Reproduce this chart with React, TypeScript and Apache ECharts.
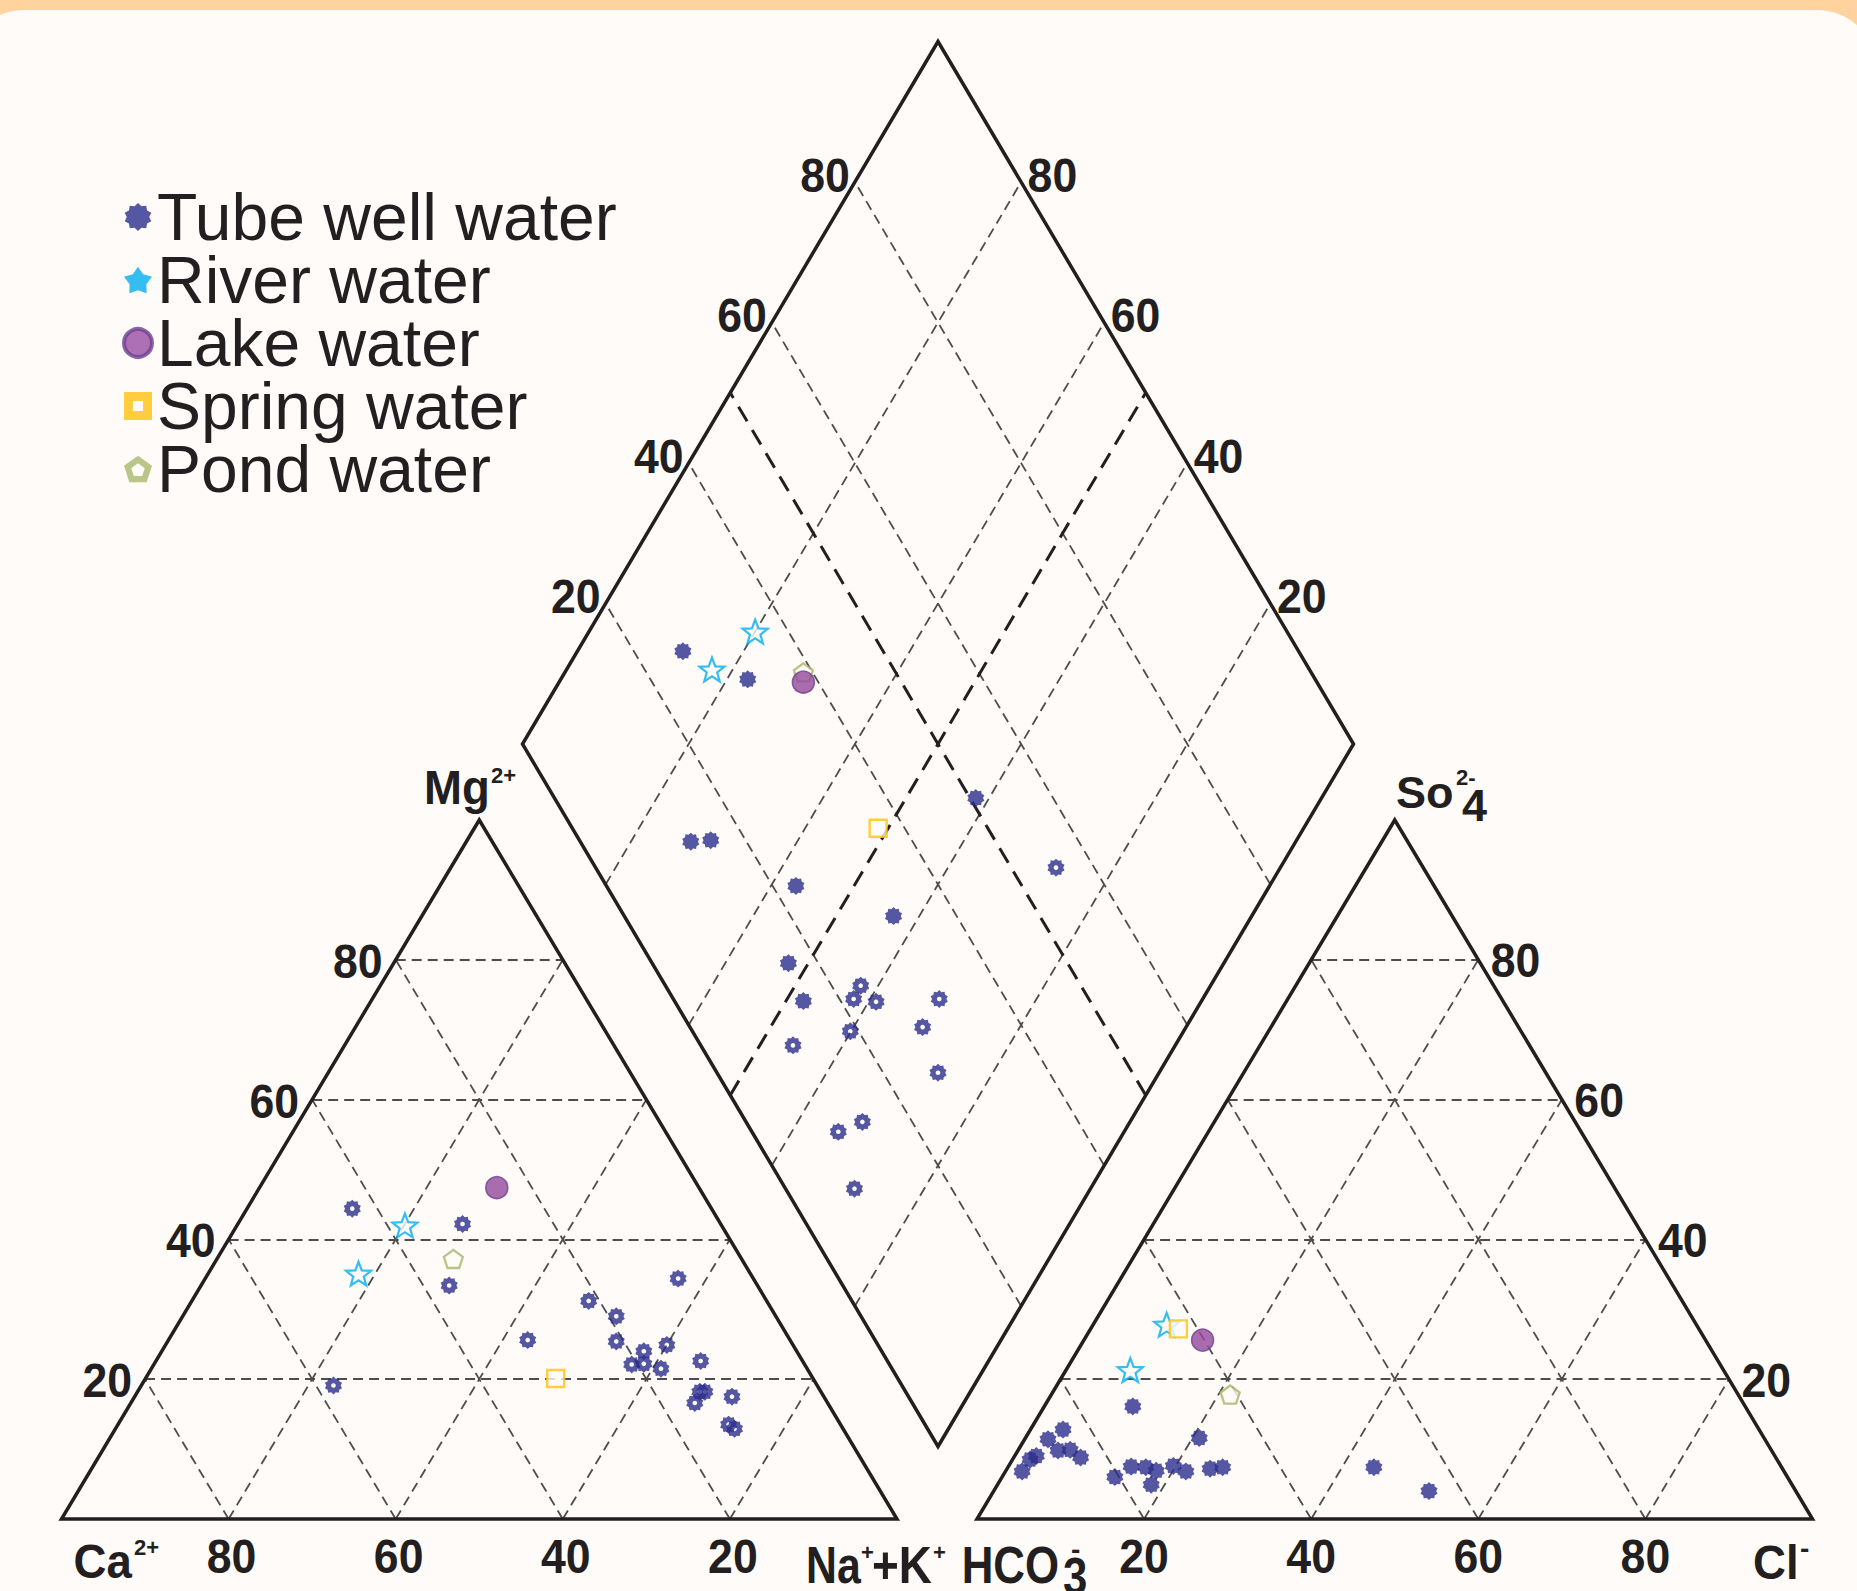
import { useEffect, useRef } from "react";
import * as echarts from "echarts";

// ---------------- DATA ----------------
const TICKS = [20, 40, 60, 80];
const TICK_LABELS = ["20", "40", "60", "80"];

// Cation triangle: [Ca2+, Mg2+, Na+ + K+] (%)
const tubeWellCations = [
  [43.0, 44.4, 12.6], [30.9, 42.2, 26.9], [36.9, 33.4, 29.7], [9.0, 34.4, 56.6],
  [21.3, 31.2, 47.5], [19.1, 29.0, 51.9], [31.4, 25.6, 43.0], [20.9, 25.4, 53.7],
  [18.3, 24.0, 57.7], [15.1, 24.9, 60.0], [20.7, 22.1, 57.2], [19.2, 22.2, 58.6],
  [17.5, 21.5, 61.0], [12.2, 22.6, 65.2], [57.9, 19.1, 23.0], [14.5, 18.2, 67.3],
  [13.9, 18.2, 67.9], [15.9, 16.6, 67.5], [11.0, 17.5, 71.5], [13.4, 13.5, 73.1],
  [13.0, 12.9, 74.1],
];
const riverCations = [[37.9, 42.0, 20.1], [46.9, 35.1, 18.0]];
const lakeCations = [[24.2, 47.4, 28.4]];
const springCations = [[30.8, 20.1, 49.1]];
const pondCations = [[34.5, 37.2, 28.3]];

// Anion triangle: [HCO3-, SO4 2-, Cl-] (%)
const tubeWellAnions = [
  [73.3, 16.1, 10.6], [83.3, 12.8, 3.9], [85.8, 11.4, 2.8], [88.4, 9.0, 2.6],
  [89.4, 8.5, 2.1], [91.2, 6.8, 2.0], [85.4, 9.8, 4.8], [83.9, 9.9, 6.2],
  [83.2, 8.8, 8.0], [80.5, 6.0, 13.5], [77.8, 7.5, 14.7], [76.1, 7.4, 16.5],
  [75.1, 6.9, 18.0], [76.7, 4.9, 18.4], [72.7, 7.6, 19.7], [71.6, 6.8, 21.6],
  [67.6, 11.6, 20.8], [68.5, 7.2, 24.3], [66.9, 7.4, 25.7], [48.8, 7.4, 43.8],
  [43.9, 4.0, 52.1],
];
const riverAnions = [[63.4, 27.8, 8.8], [71.0, 21.3, 7.7]];
const lakeAnions = [[60.2, 25.6, 14.2]];
const springAnions = [[62.3, 27.2, 10.5]];
const pondAnions = [[60.8, 17.8, 21.4]];

// Diamond: [Ca+Mg, SO4+Cl] (%)
const tubeWellDiamondA = [
  [87.3, 25.9], [77.5, 31.7], [72.8, 13.3], [70.5, 15.8], [57.0, 22.8],
  [43.1, 32.4], [41.6, 50.7], [52.4, 16.4], [47.9, 15.5],
];
const tubeWellDiamondB = [
  [27.0, 55.4], [42.1, 23.5], [42.0, 21.7], [39.1, 24.2], [31.7, 32.0], [40.1, 19.0],
  [31.7, 28.0], [46.0, 11.1], [26.6, 26.6], [32.2, 14.0], [34.4, 10.4], [28.4, 8.3],
];
const riverDiamond = [[80.0, 36.0], [82.5, 28.1]];
const lakeDiamond = [[70.6, 38.2]];
const springDiamond = [[51.2, 36.8]];
const pondDiamond = [[71.3, 38.9]];

const SERIES_NAMES = ["Tube well water", "River water", "Lake water", "Spring water", "Pond water"];

// ---------------- GEOMETRY ----------------
const W = 1857;
const H = 1591;
const LT = { x0: 61.5, x1: 897, base: 1519, apex: 820 };
const RT = { x0: 977, x1: 1812.5, base: 1519, apex: 820 };
const DM = { cx: 938, top: 41.5, bottom: 1446.5, hw: 415.5 };

function triPt(T: any, a: number, b: number, c: number): number[] {
  const t = a + b + c;
  const w = T.x1 - T.x0;
  const h = T.base - T.apex;
  return [T.x0 + (c / t + b / t / 2) * w, T.base - (b / t) * h];
}
const catPt = (ca: number, mg: number, na: number) => triPt(LT, ca, mg, na);
const anPt = (hc: number, so: number, cl: number) => triPt(RT, hc, so, cl);
function dmPt(cm: number, sc: number): number[] {
  const hh = (DM.bottom - DM.top) / 2;
  return [DM.cx + (DM.hw * (sc - cm)) / 100, DM.bottom - (hh * (sc + cm)) / 100];
}

// ---------------- SYMBOLS ----------------
function starPath(n: number, outer: number, inner: number, hole: number): string {
  let d = "";
  for (let i = 0; i < n * 2; i++) {
    const r = i % 2 === 0 ? outer : inner;
    const a = -Math.PI / 2 + (i * Math.PI) / n;
    d += (i === 0 ? "M" : "L") + (50 + r * Math.cos(a)).toFixed(2) + " " + (50 + r * Math.sin(a)).toFixed(2) + " ";
  }
  d += "Z ";
  if (hole > 0) {
    for (let i = 0; i < 12; i++) {
      const a = -Math.PI / 2 - (i * Math.PI * 2) / 12;
      d += (i === 0 ? "M" : "L") + (50 + hole * Math.cos(a)).toFixed(2) + " " + (50 + hole * Math.sin(a)).toFixed(2) + " ";
    }
    d += "Z";
  }
  return "path://" + d;
}
function polyRing(n: number, outer: number, inner: number): string {
  let d = "";
  for (let i = 0; i < n; i++) {
    const a = -Math.PI / 2 + (i * 2 * Math.PI) / n;
    d += (i === 0 ? "M" : "L") + (50 + outer * Math.cos(a)).toFixed(2) + " " + (50 + outer * Math.sin(a)).toFixed(2) + " ";
  }
  d += "Z ";
  if (inner > 0) {
    for (let i = 0; i < n; i++) {
      const a = -Math.PI / 2 - (i * 2 * Math.PI) / n;
      d += (i === 0 ? "M" : "L") + (50 + inner * Math.cos(a)).toFixed(2) + " " + (50 + inner * Math.sin(a)).toFixed(2) + " ";
    }
    d += "Z";
  }
  return "path://" + d;
}
const STAR10 = starPath(10, 50, 40, 0);
const STAR10_HOLLOW = starPath(10, 50, 40, 13);
const STAR5 = starPath(5, 50, 21, 0);
const STAR5_FAT = starPath(5, 50, 30, 0);
const PENTAGON = polyRing(5, 50, 0);
const PENTAGON_RING = polyRing(5, 50, 24);
const SQUARE_RING = "path://M0 0 L100 0 L100 100 L0 100 Z M32 32 L32 68 L68 68 L68 32 Z";

const TXT = "#231f20";
const BG = "#fffbf9";
const TUBE = "#2b2e8c";
const FONT = "'Liberation Sans', Arial, Helvetica, sans-serif";

function txt(text: string, x: number, y: number, size: number, align: string, scaleX = 1, weight = "bold") {
  return {
    type: "text",
    x,
    y,
    scaleX,
    z: 50,
    silent: true,
    style: {
      text,
      font: `${weight} ${size}px ${FONT}`,
      fill: TXT,
      align,
      textAlign: align,
      verticalAlign: "middle",
      textVerticalAlign: "middle",
      lineHeight: Math.round(size * 0.8),
    },
  };
}

function buildOption() {
  // grid lines
  const thin: any[] = [];
  TICKS.forEach((k) => {
    thin.push([catPt(100 - k, k, 0), catPt(0, k, 100 - k)]);
    thin.push([catPt(k, 0, 100 - k), catPt(k, 100 - k, 0)]);
    thin.push([catPt(100 - k, 0, k), catPt(0, 100 - k, k)]);
    thin.push([anPt(100 - k, k, 0), anPt(0, k, 100 - k)]);
    thin.push([anPt(k, 0, 100 - k), anPt(k, 100 - k, 0)]);
    thin.push([anPt(100 - k, 0, k), anPt(0, 100 - k, k)]);
    thin.push([dmPt(k, 0), dmPt(k, 100)]);
    thin.push([dmPt(0, k), dmPt(100, k)]);
  });
  const thick = [
    [dmPt(50, 0), dmPt(50, 100)],
    [dmPt(0, 50), dmPt(100, 50)],
  ];

  const lt = [catPt(100, 0, 0), catPt(0, 0, 100), catPt(0, 100, 0)];
  const rt = [anPt(100, 0, 0), anPt(0, 0, 100), anPt(0, 100, 0)];
  const dm = [dmPt(0, 0), dmPt(0, 100), dmPt(100, 100), dmPt(100, 0)];
  const closed = (p: number[][]) => [...p, p[0], p[1]];

  const outline = (data: number[][]) => ({
    type: "line",
    data,
    symbol: "none",
    silent: true,
    z: 3,
    lineStyle: { color: TXT, width: 3.5, join: "miter", cap: "butt" },
  });

  // labels
  const g: any[] = [
    {
      type: "rect",
      z: -100,
      silent: true,
      shape: { x: -36, y: 10, width: W + 56, height: H + 100, r: 60 },
      style: { fill: BG },
    },
  ];
  TICKS.forEach((k, i) => {
    const lab = TICK_LABELS[i];
    const a = catPt(100 - k, k, 0);
    g.push(txt(lab, a[0] - 13, a[1] + 1.5, 48, "right", 0.93));
    const b = catPt(k, 0, 100 - k);
    g.push(txt(lab, b[0] + 3, LT.base + 37.5, 48, "center", 0.93));
    const c = anPt(0, k, 100 - k);
    g.push(txt(lab, c[0] + 12.5, c[1] + 1, 48, "left", 0.93));
    const d = anPt(100 - k, 0, k);
    g.push(txt(lab, d[0], RT.base + 37.5, 48, "center", 0.93));
    const e = dmPt(100, k);
    g.push(txt(lab, e[0] - 5, e[1] - 7, 48, "right", 0.93));
    const f = dmPt(k, 100);
    g.push(txt(lab, f[0] + 6.5, f[1] - 7, 48, "left", 0.93));
  });
  // axis names
  g.push(txt("Ca", 73.5, 1561.5, 48, "left", 0.95));
  g.push(txt("2+", 134, 1547, 22, "left", 1));
  g.push(txt("Mg", 424, 788, 48, "left", 0.95));
  g.push(txt("2+", 491, 775, 22, "left", 1));
  g.push(txt("Na", 806, 1565, 51, "left", 0.84));
  g.push(txt("+", 861, 1552, 22, "left", 1));
  g.push(txt("+K", 872, 1565, 51, "left", 0.9));
  g.push(txt("+", 933, 1552, 22, "left", 1));
  g.push(txt("HCO", 961.7, 1565, 51, "left", 0.86));
  g.push(txt("3", 1063, 1576, 51, "left", 0.86));
  g.push(txt("-", 1071, 1549, 28, "left", 1));
  g.push(txt("So", 1396, 792, 45, "left", 1));
  g.push(txt("2-", 1456, 777, 22, "left", 1));
  g.push(txt("4", 1462, 805, 45, "left", 1));
  g.push(txt("Cl", 1753, 1563, 48, "left", 0.95));
  g.push(txt("-", 1800, 1548, 28, "left", 1));

  const cat = (arr: number[][]) => arr.map((p) => catPt(p[0], p[1], p[2]));
  const an = (arr: number[][]) => arr.map((p) => anPt(p[0], p[1], p[2]));
  const dmd = (arr: number[][]) => arr.map((p) => dmPt(p[0], p[1]));

  const scatterBase = { type: "scatter", symbolKeepAspect: true, z: 10 };

  return {
    animation: false,
    backgroundColor: "#ffd29e",
    grid: { left: 0, right: 0, top: 0, bottom: 0, containLabel: false },
    xAxis: { type: "value", min: 0, max: W, show: false },
    yAxis: { type: "value", min: 0, max: H, inverse: true, show: false },
    legend: {
      orient: "vertical",
      left: 122,
      top: 184,
      padding: 0,
      itemGap: -3,
      itemWidth: 28,
      itemHeight: 28,
      selectedMode: false,
      textStyle: { fontFamily: FONT, fontSize: 66, color: TXT, lineHeight: 62 },
      data: [
        { name: SERIES_NAMES[0], icon: STAR10, itemStyle: { color: TUBE, borderWidth: 0 } },
        { name: SERIES_NAMES[1], icon: STAR5_FAT, itemStyle: { color: "#00aeef", borderWidth: 0 } },
        { name: SERIES_NAMES[2], icon: "circle", itemStyle: { color: "#9a4ea2", borderColor: "#6a3e90", borderWidth: 4 } },
        { name: SERIES_NAMES[3], icon: SQUARE_RING, itemStyle: { color: "#ffc20e", borderWidth: 0 } },
        { name: SERIES_NAMES[4], icon: PENTAGON_RING, itemStyle: { color: "#a9b86d", borderWidth: 0 } },
      ],
    },
    graphic: { elements: g },
    series: [
      {
        type: "lines",
        coordinateSystem: "cartesian2d",
        silent: true,
        z: 1,
        data: thin.map((c) => ({ coords: c })),
        lineStyle: { color: "#4d4d4d", width: 1.8, type: [10, 6], opacity: 1, curveness: 0 },
      },
      {
        type: "lines",
        coordinateSystem: "cartesian2d",
        silent: true,
        z: 2,
        data: thick.map((c) => ({ coords: c })),
        lineStyle: { color: TXT, width: 3, type: [17, 10], opacity: 1, curveness: 0 },
      },
      outline(closed(lt)),
      outline(closed(rt)),
      outline(closed(dm)),
      {
        ...scatterBase,
        name: SERIES_NAMES[0],
        symbol: STAR10,
        symbolSize: 18,
        itemStyle: { color: TUBE },
        data: [...dmd(tubeWellDiamondA), ...an(tubeWellAnions)],
      },
      {
        ...scatterBase,
        name: SERIES_NAMES[0],
        symbol: STAR10_HOLLOW,
        symbolSize: 18,
        itemStyle: { color: TUBE },
        data: [...cat(tubeWellCations), ...dmd(tubeWellDiamondB)],
      },
      {
        ...scatterBase,
        name: SERIES_NAMES[1],
        symbol: STAR5,
        symbolSize: 25,
        itemStyle: { color: BG, borderColor: "#00aeef", borderWidth: 2.2 },
        data: [...cat(riverCations), ...dmd(riverDiamond), ...an(riverAnions)],
      },
      {
        ...scatterBase,
        name: SERIES_NAMES[4],
        symbol: PENTAGON,
        symbolSize: 19,
        itemStyle: { color: BG, borderColor: "#a6b569", borderWidth: 2.3 },
        data: [...cat(pondCations), ...dmd(pondDiamond), ...an(pondAnions)],
      },
      {
        ...scatterBase,
        name: SERIES_NAMES[3],
        symbol: "rect",
        symbolSize: 17,
        itemStyle: { color: BG, borderColor: "#ffc20e", borderWidth: 2.4 },
        data: [...cat(springCations), ...dmd(springDiamond), ...an(springAnions)],
      },
      {
        ...scatterBase,
        name: SERIES_NAMES[2],
        symbol: "circle",
        symbolSize: 22,
        itemStyle: { color: "#94489c", borderColor: "#6b3f8f", borderWidth: 1.5 },
        data: [...cat(lakeCations), ...dmd(lakeDiamond), ...an(lakeAnions)],
      },
    ],
  };
}

export default function App() {
  const ref = useRef<HTMLDivElement>(null);
  useEffect(() => {
    if (!ref.current) return;
    const chart = echarts.init(ref.current, undefined, { renderer: "svg" });
    chart.setOption(buildOption() as any);
    return () => chart.dispose();
  }, []);
  return (
    <div
      ref={ref}
      style={{ position: "absolute", left: 0, top: 0, width: W, height: H }}
    />
  );
}
